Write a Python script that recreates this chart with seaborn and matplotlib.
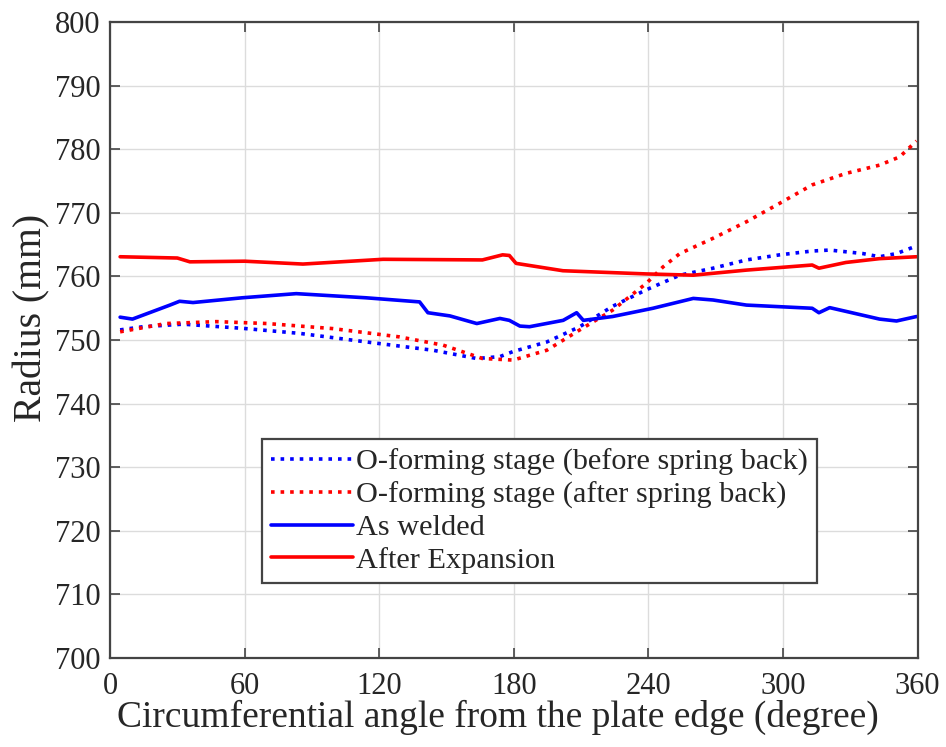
import numpy as np
import pandas as pd
import matplotlib
matplotlib.use("Agg")
import matplotlib.pyplot as plt
import seaborn as sns

# --- data ---
before_angle = [4.5, 14.7, 32.6, 59, 84.6, 114.4, 144, 163.5, 173.8, 179.7, 194.7, 209.4, 224, 239, 254,
                268.8, 283.7, 298.5, 313, 320.8, 335.6, 343, 350.6, 359.5]
before_radius = [751.6, 752.1, 752.5, 751.85, 751.05, 749.7, 748.4, 747.1, 747.4, 748.2, 749.7, 752.1, 755.3,
                 757.9, 760.2, 761.3, 762.6, 763.4, 764.0, 764.15, 763.6, 763.1, 763.6, 764.8]

after_angle = [4.5, 25, 47.5, 70, 99.4, 129, 148.5, 166, 172, 179.7, 194.7, 209.4, 224, 239, 246.5, 254,
               268.8, 283.7, 298.5, 313, 328, 343, 352, 359.5]
after_radius = [751.3, 752.6, 752.9, 752.6, 751.8, 750.5, 749.2, 747.1, 747.0, 746.85, 748.4, 751.6, 754.7,
                758.9, 761.5, 763.6, 766.0, 768.6, 771.5, 774.4, 776.2, 777.5, 778.8, 781.3]

welded_angle = [4.5, 10, 26.7, 31, 37, 59, 83, 114, 138, 141.7, 151.5, 163.5, 173.8, 178, 182.7, 187, 202,
                208, 211, 224, 242, 260, 268.8, 283.7, 313, 316, 320.8, 343, 350.6, 359.5]
welded_radius = [753.6, 753.3, 755.5, 756.1, 755.9, 756.65, 757.3, 756.65, 756.0, 754.3, 753.8, 752.6, 753.4,
                 753.1, 752.2, 752.1, 753.1, 754.3, 753.1, 753.7, 755.0, 756.55, 756.3, 755.5, 755.0, 754.3,
                 755.1, 753.3, 753.0, 753.7]

expansion_angle = [4.5, 30, 35.6, 60, 86, 121.7, 166, 175, 178, 181, 201.9, 239, 260, 283.7, 313, 316, 328,
                   343, 359.5]
expansion_radius = [763.1, 762.9, 762.3, 762.4, 761.95, 762.7, 762.6, 763.4, 763.3, 762.06, 760.9, 760.4,
                    760.2, 761.0, 761.8, 761.3, 762.2, 762.8, 763.1]

labels = ["O-forming stage (before spring back)", "O-forming stage (after spring back)",
          "As welded", "After Expansion"]
x_ticks = [0, 60, 120, 180, 240, 300, 360]
y_ticks = list(range(700, 801, 10))

sns.set_theme(style="whitegrid")
plt.rcParams['font.family'] = ['Liberation Serif', 'DejaVu Serif']

fig = plt.figure(figsize=(9.46, 7.47), dpi=100)
ax = fig.add_axes([0.1163, 0.119, 0.8537, 0.8515])

series = [
    (before_angle, before_radius, labels[0], "#0000ff", ":"),
    (after_angle, after_radius, labels[1], "#ff0000", ":"),
    (welded_angle, welded_radius, labels[2], "#0000ff", "-"),
    (expansion_angle, expansion_radius, labels[3], "#ff0000", "-"),
]
for xs, ys, lab, col, ls in series:
    df = pd.DataFrame({"angle": xs, "radius": ys})
    sns.lineplot(data=df, x="angle", y="radius", ax=ax, color=col, linestyle=ls,
                 linewidth=2.6, label=lab)

ax.set_xlim(0, 360)
ax.set_ylim(700, 800)
ax.set_xticks(x_ticks)
ax.set_yticks(y_ticks)
ax.set_facecolor("white")
ax.grid(True, color="#dcdcdc", linewidth=1.0)
for s in ax.spines.values():
    s.set_color("#444444")
    s.set_linewidth(1.6)
ax.tick_params(direction="in", length=7, width=1.2, colors="#444444", labelcolor="#262626",
               labelsize=22, top=True, right=True, bottom=True, left=True)
ax.tick_params(axis="x", pad=10)
ax.tick_params(axis="y", pad=7)
ax.set_xlabel("Circumferential angle from the plate edge (degree)", fontsize=27, color="#262626")
ax.set_ylabel("Radius (mm)", fontsize=28.5, color="#262626")
ax.xaxis.set_label_coords(0.48, -0.066)
ax.yaxis.set_label_coords(-0.074, 0.535)

leg = ax.legend(loc="lower left", bbox_to_anchor=(0.188, 0.118), fontsize=21.8, frameon=True,
                fancybox=False, edgecolor="#444444", framealpha=1, handlelength=2.7,
                handletextpad=0.1, borderpad=0.3, labelspacing=0.18, borderaxespad=0)
leg.get_frame().set_linewidth(1.6)

fig.savefig("out.png", dpi=100)
